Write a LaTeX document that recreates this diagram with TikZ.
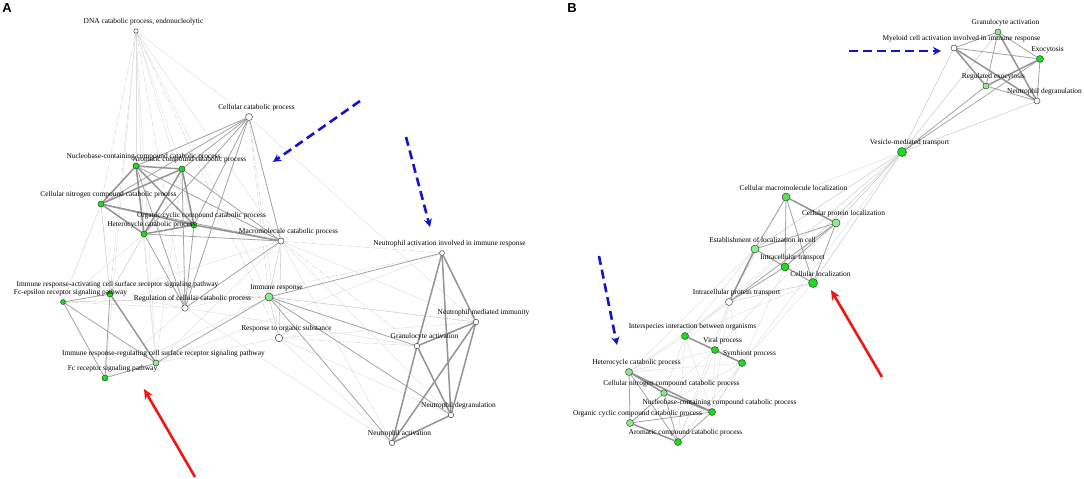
\documentclass[tikz,border=0pt]{standalone}
\usepackage{fontspec}
\setmainfont{Liberation Serif}
\setsansfont{Liberation Sans}
\usetikzlibrary{calc,arrows,arrows.meta}
\definecolor{gnA}{RGB}{25,222,25}
\definecolor{gnM}{RGB}{85,226,85}
\definecolor{gnL}{RGB}{140,236,140}
\definecolor{arrblue}{RGB}{20,20,205}
\definecolor{arrred}{RGB}{245,20,20}
\pgfdeclarelayer{edges}
\pgfsetlayers{edges,main}
\tikzset{
  term/.style={circle, draw=black!80, line width=0.45pt, inner sep=0pt, minimum size=6pt},
  wt/.style={term, fill=white},
  ga/.style={term, fill=gnA},
  gm/.style={term, fill=gnM},
  gl/.style={term, fill=gnL},
  lbl/.style={font=\fontsize{7.4}{8}\selectfont, inner sep=0pt},
  hvy/.style={draw=black!42, line width=1.5pt},
  med/.style={draw=black!36, line width=0.8pt},
  lgt/.style={draw=black!20, line width=0.55pt},
  fnt/.style={draw=black!12, line width=0.45pt},
  dsh/.style={draw=black!16, line width=0.5pt, dash pattern=on 5pt off 1.5pt on 1pt off 1.5pt},
  bluearr/.style={draw=arrblue, line width=2.6pt, dash pattern=on 9pt off 5pt, -{Stealth[length=8pt,width=8pt]}},
  redarr/.style={draw=arrred, line width=2.6pt, -{Stealth[length=10pt,width=9pt]}},
  panel/.style={font=\sffamily\bfseries\fontsize{13}{13}\selectfont, inner sep=0pt}
}
\newcommand{\gonode}[4]{%
  \node[#2] (#1) at (#3) {};
  \node[lbl] (#1-t) at ($(#1)+(7.5,-9)$) {#4};}

\begin{document}
\begin{tikzpicture}[x=1pt,y=-1pt]
  \useasboundingbox (0,0) rectangle (1084,479);
  % panel letters
  \node[panel] (lA) at (7,8) {A};
  \node[panel] (lB) at (572,8) {B};

  % panel A: catabolic group
  \gonode{dna}{wt,minimum size=4.5pt}{136,31}{DNA catabolic process, endonucleolytic}
  \gonode{ccp}{wt,minimum size=7pt}{249,117}{Cellular catabolic process}
  \gonode{nbc}{ga}{136,166}{Nucleobase-containing compound catabolic process}
  \gonode{acp}{ga}{182,169}{Aromatic compound catabolic process}
  \gonode{cnc}{ga}{101,204}{Cellular nitrogen compound catabolic process}
  \gonode{occ}{ga}{194,225}{Organic cyclic compound catabolic process}
  \gonode{hcp}{ga}{144,234}{Heterocycle catabolic process}
  \gonode{mcp}{wt}{281,241}{Macromolecule catabolic process}
  % panel A: immune group
  \gonode{ira}{ga}{110,294}{Immune response-activating cell surface receptor signaling pathway}
  \gonode{fce}{ga,minimum size=5pt}{63,302}{Fc-epsilon receptor signaling pathway}
  \gonode{rcc}{wt,minimum size=6.5pt}{185,308}{Regulation of cellular catabolic process}
  \gonode{imr}{gl,minimum size=8pt}{269,297}{Immune response}
  \gonode{ros}{wt,minimum size=7.5pt}{279,338}{Response to organic substance}
  \gonode{irr}{gl}{156,363}{Immune response-regulating cell surface receptor signaling pathway}
  \gonode{fcr}{ga}{105,378}{Fc receptor signaling pathway}
  % panel A: neutrophil group
  \gonode{nai}{wt,minimum size=5pt}{442,253}{Neutrophil activation involved in immune response}
  \gonode{nmi}{wt,minimum size=5.5pt}{476,322}{Neutrophil mediated immunity}
  \gonode{gra}{wt,minimum size=5.5pt}{417,346}{Granulocyte activation}
  \gonode{ndg}{wt,minimum size=5.5pt}{451,415}{Neutrophil degranulation}
  \gonode{nac}{wt,minimum size=5.5pt}{392,443}{Neutrophil activation}

  % panel B: exocytosis group
  \gonode{bgr}{gl}{998,32}{Granulocyte activation}
  \gonode{bmy}{wt}{954,48}{Myeloid cell activation involved in immune response}
  \gonode{bex}{ga,minimum size=7pt}{1040,59}{Exocytosis}
  \gonode{brx}{gl}{986,86}{Regulated exocytosis}
  \gonode{bnd}{wt}{1037,101}{Neutrophil degranulation}
  \gonode{bvm}{ga,minimum size=9pt}{902,152}{Vesicle-mediated transport}
  % panel B: localization group
  \gonode{bcm}{gm,minimum size=8pt}{786,197}{Cellular macromolecule localization}
  \gonode{bcp}{gl,minimum size=8pt}{836,223}{Cellular protein localization}
  \gonode{bel}{gl,minimum size=8pt}{755,249}{Establishment of localization in cell}
  \gonode{bit}{ga,minimum size=8pt}{785,267}{Intracellular transport}
  \gonode{bcl}{ga,minimum size=9pt}{813,283}{Cellular localization}
  \gonode{bip}{wt,minimum size=7pt}{729,302}{Intracellular protein transport}
  % panel B: symbiont and catabolic groups
  \gonode{bis}{ga,minimum size=7pt}{685,336}{Interspecies interaction between organisms}
  \gonode{bvp}{ga,minimum size=7pt}{715,350}{Viral process}
  \gonode{bsp}{ga,minimum size=7pt}{742,363}{Symbiont process}
  \gonode{bhc}{gl,minimum size=7pt}{629,372}{Heterocycle catabolic process}
  \gonode{bcn}{gl,minimum size=6.5pt}{664,393}{Cellular nitrogen compound catabolic process}
  \gonode{bnb}{ga,minimum size=7pt}{712,412}{Nucleobase-containing compound catabolic process}
  \gonode{boc}{gl,minimum size=7pt}{630,423}{Organic cyclic compound catabolic process}
  \gonode{bac}{ga,minimum size=7pt}{678,442}{Aromatic compound catabolic process}

  \begin{pgfonlayer}{edges}
    % faint links
    \foreach \a/\b in {dna/nbc,dna/hcp,dna/occ,dna/mcp,dna/ccp,dna/irr,dna/imr,dna/acp,dna/fcr,
        fce/cnc,fce/hcp,ira/rcc,ira/mcp,irr/mcp,fcr/rcc,cnc/fce,hcp/irr,nbc/irr,acp/irr,
        mcp/nmi,mcp/ndg,mcp/nac,ros/nmi,ros/ndg,ros/nac,rcc/nai,rcc/gra,rcc/nac,irr/nai,ccp/nmi,
        irr/ros,fcr/imr,
        bvm/bcm,bvm/bip,bvm/bis,bvm/bsp,bip/bis,bip/bvp,bip/bsp,bip/bhc,bip/bnb,bip/bac,
        bis/bhc,bis/bnb,bis/bac,bvp/bhc,bvp/bnb,bvp/bac,bsp/bhc,bsp/bac,bsp/boc,bis/bcn,
        bvp/boc,bel/bis,bel/bhc,bit/bsp,bcl/bsp,bcl/bis,bcp/bvp}
      \draw[fnt] (\a) -- (\b);
    \foreach \a/\b in {dna/cnc,dna/rcc,dna/ira,dna/ros,fce/rcc,mcp/nai,ros/gra,ccp/ros,
        ccp/imr,mcp/gra,ira/imr,bel/bip,bcm/bip}
      \draw[dsh] (\a) -- (\b);
    % light links
    \foreach \a/\b in {imr/nmi,imr/ros,mcp/imr,mcp/ros,fce/imr,hcp/ira,cnc/ira,
        bvm/bmy,bvm/bgr,bvm/bnd,bvm/bcp,bvm/bel,bvm/bit,bvm/bcl,bcl/bip,bsp/bnb}
      \draw[lgt] (\a) -- (\b);
    % medium links
    \foreach \a/\b in {ccp/nbc,ccp/acp,ccp/cnc,ccp/occ,ccp/hcp,ccp/mcp,ccp/rcc,
        mcp/nbc,mcp/acp,mcp/cnc,mcp/hcp,mcp/rcc,occ/rcc,hcp/rcc,acp/rcc,nbc/rcc,
        ira/fcr,fce/fcr,fce/irr,fcr/irr,fce/ira,irr/imr,
        imr/nai,imr/gra,imr/ndg,imr/nac,
        bmy/bgr,bmy/bex,bgr/bex,bgr/brx,bex/bnd,brx/bnd,bvm/brx,bvm/bex,
        bcm/bel,bcm/bit,bcm/bcl,bcp/bel,bcp/bit,bcp/bcl,bcp/bip,bel/bit,bel/bcl,bit/bcl,bit/bip,
        bis/bsp,bhc/boc,bhc/bac,bcn/boc,bcn/bac,bnb/boc,bnb/bac}
      \draw[med] (\a) -- (\b);
    % heavy links
    \foreach \a/\b in {nbc/acp,nbc/cnc,nbc/hcp,nbc/occ,acp/cnc,acp/hcp,acp/occ,cnc/hcp,cnc/occ,
        hcp/occ,occ/mcp,ira/irr,
        nai/nmi,nai/gra,nai/ndg,nmi/gra,nmi/nac,nmi/ndg,gra/ndg,gra/nac,ndg/nac,
        bmy/brx,bmy/bnd,bgr/bnd,bex/brx,bcm/bcp,bel/bip,
        bis/bvp,bvp/bsp,bhc/bcn,bhc/bnb,bcn/bnb,boc/bac}
      \draw[hvy] (\a) -- (\b);
  \end{pgfonlayer}

  % highlight arrows
  \coordinate (a1s) at (360,101);
  \coordinate (a1e) at (273,162);
  \coordinate (a2s) at (406,137);
  \coordinate (a2e) at (430,227);
  \coordinate (a3s) at (195,477);
  \coordinate (a3e) at (144,389);
  \coordinate (b1s) at (849,51);
  \coordinate (b1e) at (941,51);
  \coordinate (b2s) at (599,256);
  \coordinate (b2e) at (617,345);
  \coordinate (b3s) at (882,377);
  \coordinate (b3e) at (831,290);
  \draw[bluearr] (a1s) -- (a1e);
  \draw[bluearr] (a2s) -- (a2e);
  \draw[redarr] (a3s) -- (a3e);
  \draw[bluearr] (b1s) -- (b1e);
  \draw[bluearr] (b2s) -- (b2e);
  \draw[redarr] (b3s) -- (b3e);
\end{tikzpicture}
\end{document}
